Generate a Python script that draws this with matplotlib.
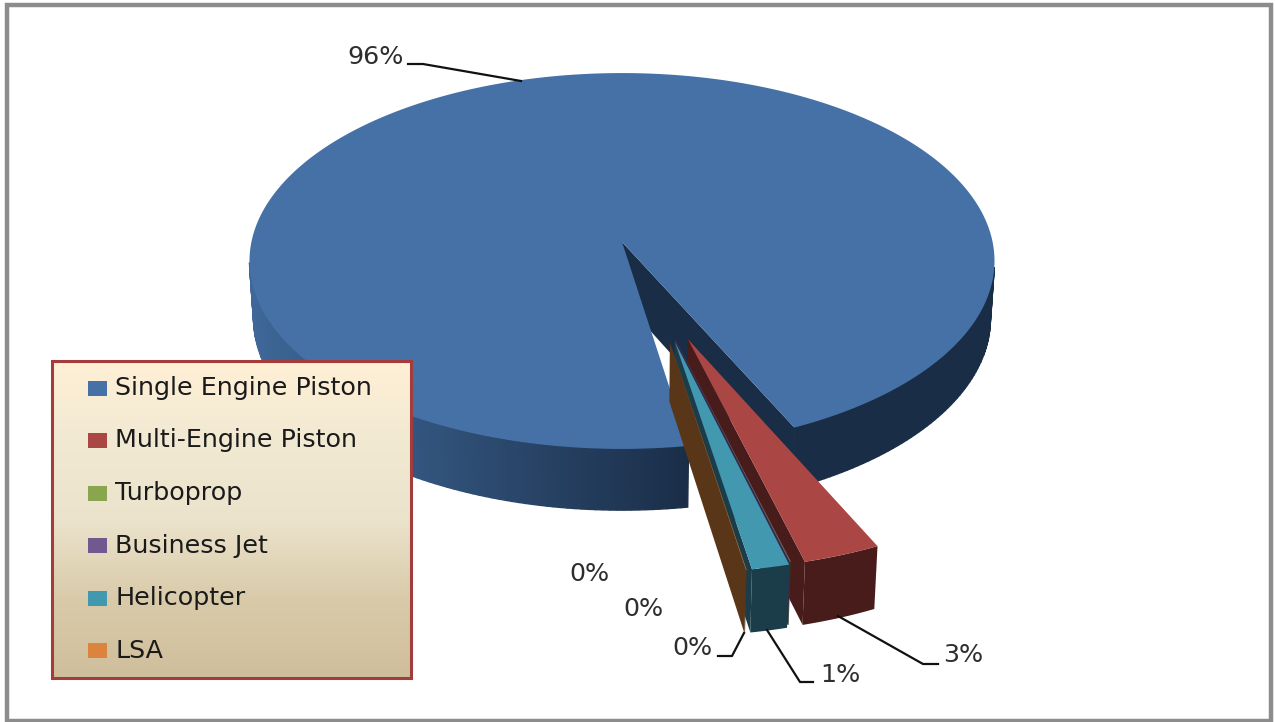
import numpy as np
import matplotlib
matplotlib.use('Agg')
import matplotlib.pyplot as plt
from matplotlib.colors import LinearSegmentedColormap, to_rgb
from matplotlib.patches import Polygon, Rectangle

categories = ['Single Engine Piston', 'Multi-Engine Piston', 'Turboprop',
              'Business Jet', 'Helicopter', 'LSA']
# percentages, estimated so that they round to the printed labels
shares = [95.64, 2.9, 0.02, 0.02, 1.4, 0.02]
top_colors = ['#4571a7', '#aa4643', '#89a54e', '#71588f', '#4198af', '#db843d']
side_colors = ['#1a2d47', '#471c1a', '#36421f', '#35264f', '#1a3d49', '#5a3618']

# direction of the explode for each slice, in degrees (0 = main slice stays put)
explode = [0, 0.525, 0.515, 0.515, 0.525, 0.525]
explode_dirs = [0, 71.2, 74.6, 74.6, 75.1, 76.5]
start_angle = 80.7

# camera for the fake 3d: disc of radius 1 seen in perspective
X0, Y0 = 622, 242
SX, SY = 370.6, 186
PERSP = 0.101
DEPTH = 58
SHRINK = 0.011


def project(u, v, low=0):
    w = 1 - PERSP * v + SHRINK * low
    return X0 + SX * u / w, Y0 + (SY * v + DEPTH * low) / w


def shift_of(i):
    a = np.radians(explode_dirs[i])
    return explode[i] * np.cos(a), explode[i] * np.sin(a)


def rim(theta, du=0, dv=0, low=0):
    t = np.radians(theta)
    return project(du + np.cos(t), dv + np.sin(t), low)


def arc(t1, t2, du=0, dv=0, low=0):
    n = max(2, int(abs(t2 - t1)) + 2)
    return [rim(t, du, dv, low) for t in np.linspace(t1, t2, n)]


fig = plt.figure(figsize=(12.75, 7.22), dpi=100)
ax = fig.add_axes([0, 0, 1, 1])
ax.set_xlim(0, 1275)
ax.set_ylim(722, 0)
ax.axis('off')

ax.add_patch(Rectangle((6.5, 4.5), 1264.5, 716, fc='white', ec='#8c8c8c', lw=3.2))

# angle of each slice from its share
spans = [s * 3.6 for s in shares]
starts = start_angle + np.concatenate([[0], np.cumsum(spans)[:-1]])
ends = starts + spans

# outer wall of the big slice, lighter towards the left
wall_dark = np.array(to_rgb('#1a2d47'))
wall_light = np.array(to_rgb('#3f6899'))
for t in np.arange(starts[0], ends[0], 1.0):
    if np.sin(np.radians(t)) < 0.12:
        continue  # back of the disc, hidden anyway
    t2 = min(t + 1.0, ends[0])
    f = np.interp(t, [80, 100, 123, 165], [0, 0.35, 0.72, 1])
    if t > 300:
        f = 0
    col = wall_dark + (wall_light - wall_dark) * f
    pts = [rim(t), rim(t2), rim(t2, low=1), rim(t, low=1)]
    ax.add_patch(Polygon(pts, fc=col, ec=col, lw=1.0, zorder=2))

# inner wall seen through the gap
pts = [project(0, 0), rim(ends[0]), rim(ends[0], low=1), project(0, 0, 1)]
ax.add_patch(Polygon(pts, fc=side_colors[0], ec='none', zorder=3))

# top of the big slice
pts = [project(0, 0)] + arc(starts[0], ends[0])
ax.add_patch(Polygon(pts, fc=top_colors[0], ec='none', zorder=4))

# the exploded slices, right one first
z = 5
for i in range(1, len(shares)):
    du, dv = shift_of(i)
    end_wall = [project(du, dv), rim(ends[i], du, dv), rim(ends[i], du, dv, 1), project(du, dv, 1)]
    ax.add_patch(Polygon(end_wall, fc=side_colors[i], ec='none', zorder=z))
    front = arc(starts[i], ends[i], du, dv) + arc(ends[i], starts[i], du, dv, 1)
    ax.add_patch(Polygon(front, fc=side_colors[i], ec='none', zorder=z))
    top = [project(du, dv)] + arc(starts[i], ends[i], du, dv)
    ax.add_patch(Polygon(top, fc=top_colors[i], ec='none', zorder=z))
    z += 1

# value labels and leader lines
labels = [f'{round(s)}%' for s in shares]
label_pos = [(376, 57), (963, 655), (589, 574), (643, 609), (840, 675), (692, 648)]
leaders = [[(408, 64), (423, 64), (521, 81)],
           [(838, 616), (923, 664), (938, 664)],
           None,
           None,
           [(767, 630), (800, 682), (813, 682)],
           [(744, 633), (732, 656), (718, 656)]]
for lab, pos, line in zip(labels, label_pos, leaders):
    ax.text(pos[0], pos[1], lab, fontsize=18.3, color='#2e2e2e',
            ha='center', va='center', zorder=20)
    if line:
        xs, ys = zip(*line)
        ax.plot(xs, ys, color='#111111', lw=1.6, zorder=20)

# legend box with vertical gradient
fade = LinearSegmentedColormap.from_list('fade', ['#fff0d6', '#f2e9d3', '#ece3cc', '#d9cbaa', '#cfbe9b'])
ax.imshow(np.linspace(0, 1, 256).reshape(-1, 1), cmap=fade, extent=(51, 411, 678, 361),
          aspect='auto', zorder=10)
ax.set_xlim(0, 1275)
ax.set_ylim(722, 0)
ax.add_patch(Rectangle((51.5, 361), 359.5, 317, fc='none', ec='#a33c3a', lw=2.2, zorder=11))
for i, (name, col) in enumerate(zip(categories, top_colors)):
    y = 388 + i * 52.5
    ax.add_patch(Rectangle((87.5, y - 7.5), 19, 15, fc=col, ec='none', zorder=12))
    ax.text(115, y, name, fontsize=18.3, color='#1a1a1a',
            va='center', ha='left', zorder=12)

fig.savefig('out.png', dpi=100)
